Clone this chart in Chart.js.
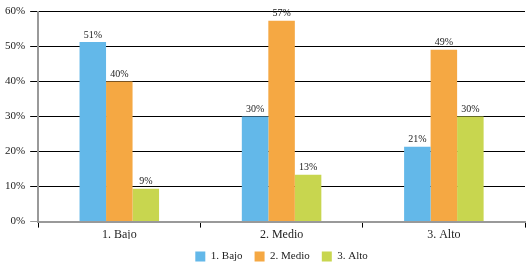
<!DOCTYPE html>
<html>
<head>
<meta charset="utf-8">
<script src="https://cdn.jsdelivr.net/npm/chart.js@4.4.0/dist/chart.umd.min.js"></script>
<style>
  html, body { margin: 0; padding: 0; background: #fff; }
  #wrap { width: 528px; height: 265px; }
</style>
</head>
<body>
<div id="wrap"><canvas id="nivelChart"></canvas></div>
<script>
const categories = ["1. Bajo", "2. Medio", "3. Alto"];
const seriesNames = ["1. Bajo", "2. Medio", "3. Alto"];
// values per series, in category order
const bajo = [51.3, 30.0, 21.4];
const medio = [40.0, 57.4, 49.1];
const alto = [9.4, 13.4, 30.0];
const yTicks = [0, 10, 20, 30, 40, 50, 60];

const colors = ["#63b8e9", "#f5a843", "#c8d64f"];
const serif = "'Liberation Serif', 'DejaVu Serif', serif";

// draws the % value above every bar
const barLabels = {
  id: "barLabels",
  afterDatasetsDraw(chart) {
    const ctx = chart.ctx;
    ctx.save();
    ctx.font = "10px " + serif;
    ctx.fillStyle = "#222";
    ctx.textAlign = "center";
    ctx.textBaseline = "bottom";
    chart.data.datasets.forEach((ds, i) => {
      chart.getDatasetMeta(i).data.forEach((bar, j) => {
        ctx.fillText(Math.round(ds.data[j]) + "%", bar.x, bar.y - 2);
      });
    });
    ctx.restore();
  }
};

// legend box is too tall by default, squeeze it
const shortLegend = {
  id: "shortLegend",
  afterInit(chart) {
    const lg = chart.legend;
    if (!lg) return;
    const fit = lg.fit.bind(lg);
    lg.fit = function () {
      fit();
      this.height = 26;
    };
  }
};

new Chart(document.getElementById("nivelChart"), {
  type: "bar",
  data: {
    labels: categories,
    datasets: [bajo, medio, alto].map((d, i) => ({
      label: seriesNames[i],
      data: d,
      backgroundColor: colors[i],
      borderWidth: 0,
      barPercentage: 1,
      categoryPercentage: 0.49
    }))
  },
  options: {
    responsive: true,
    maintainAspectRatio: false,
    animation: false,
    layout: { padding: { top: 4, right: 3, left: 0, bottom: 0 } },
    plugins: {
      legend: {
        position: "bottom",
        fullSize: false,
        labels: {
          boxWidth: 10,
          boxHeight: 10,
          padding: 12,
          color: "#222",
          font: { family: serif, size: 11 }
        }
      },
      tooltip: { enabled: false }
    },
    scales: {
      x: {
        afterFit(scale) {
          scale.height = scale.height - 3;
        },
        grid: {
          drawOnChartArea: false,
          drawTicks: true,
          tickLength: 6,
          color: "#000"
        },
        border: { color: "#999", width: 2 },
        ticks: { color: "#222", font: { family: serif, size: 12 }, padding: 0 }
      },
      y: {
        min: 0,
        max: 60,
        afterBuildTicks(axis) {
          axis.ticks = yTicks.map(v => ({ value: v }));
        },
        grid: {
          color: (c) => (c.tick && c.tick.value === 0 ? "#999" : "#000"),
          lineWidth: 1,
          tickLength: 8
        },
        border: { color: "#999", width: 2 },
        ticks: {
          color: "#222",
          padding: 5,
          font: { family: serif, size: 11 },
          callback: (v) => v + "%"
        }
      }
    }
  },
  plugins: [barLabels, shortLegend]
});
</script>
</body>
</html>
